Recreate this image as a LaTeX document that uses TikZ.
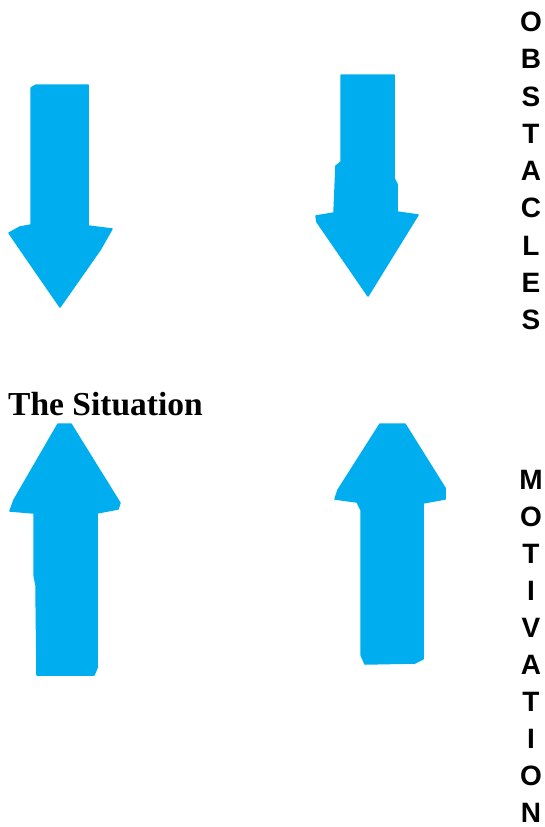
\documentclass[tikz,border=0pt]{standalone}
\usepackage{fontspec}
\setmainfont{Liberation Serif}
\setsansfont{Liberation Sans}
\definecolor{arrowblue}{RGB}{0,174,239}
\begin{document}
\begin{tikzpicture}[x=1pt,y=-1pt,
  blockarrow/.style={fill=arrowblue,draw=arrowblue,line width=1.5pt,line join=round},
  vletter/.style={font=\sffamily\bfseries\fontsize{28}{28}\selectfont,inner sep=0pt,anchor=center},
  title/.style={font=\bfseries\fontsize{33.5}{36}\selectfont,inner sep=0pt,anchor=base west}]
\useasboundingbox (0,0) rectangle (545,827);
% down arrow, left
\fill[blockarrow] (31,88) -- (36,85) -- (88,85) -- (88,226) -- (112,229) -- (100,250) -- (60,307) -- (22,252) -- (9,233) -- (20,227) -- (31,225) -- cycle;
% down arrow, right
\fill[blockarrow] (341,75) -- (394,75) -- (394,178) -- (397,184) -- (397,212) -- (418,215) -- (368,296) -- (317,222) -- (316,216) -- (334,213) -- (336,166) -- (341,162) -- cycle;
% up arrow, left
\fill[blockarrow] (58,424) -- (71,424) -- (120,503) -- (118,509) -- (97,513) -- (97,668) -- (94,675) -- (37,675) -- (36,585) -- (34,575) -- (34,513) -- (10,511) -- (14,500) -- cycle;
% up arrow, right
\fill[blockarrow] (380,424) -- (405,424) -- (445,488) -- (445,499) -- (423,503) -- (423,659) -- (415,663) -- (365,664) -- (361,655) -- (361,510) -- (357,502) -- (335,499) -- (338,490) -- cycle;
% title
\node[title] (sit) at (8,415) {The Situation};
% OBSTACLES
\node[vletter] (o1) at (531,22) {O};
\node[vletter] (o2) at (531,59.25) {B};
\node[vletter] (o3) at (531,96.5) {S};
\node[vletter] (o4) at (531,133.75) {T};
\node[vletter] (o5) at (531,171) {A};
\node[vletter] (o6) at (531,208.25) {C};
\node[vletter] (o7) at (531,245.5) {L};
\node[vletter] (o8) at (531,282.75) {E};
\node[vletter] (o9) at (531,320) {S};
% MOTIVATION
\node[vletter] (m1) at (531,480) {M};
\node[vletter] (m2) at (531,517) {O};
\node[vletter] (m3) at (531,554) {T};
\node[vletter] (m4) at (531,591) {I};
\node[vletter] (m5) at (531,628) {V};
\node[vletter] (m6) at (531,665) {A};
\node[vletter] (m7) at (531,702) {T};
\node[vletter] (m8) at (531,739) {I};
\node[vletter] (m9) at (531,776) {O};
\node[vletter] (m10) at (531,813) {N};
\end{tikzpicture}
\end{document}
